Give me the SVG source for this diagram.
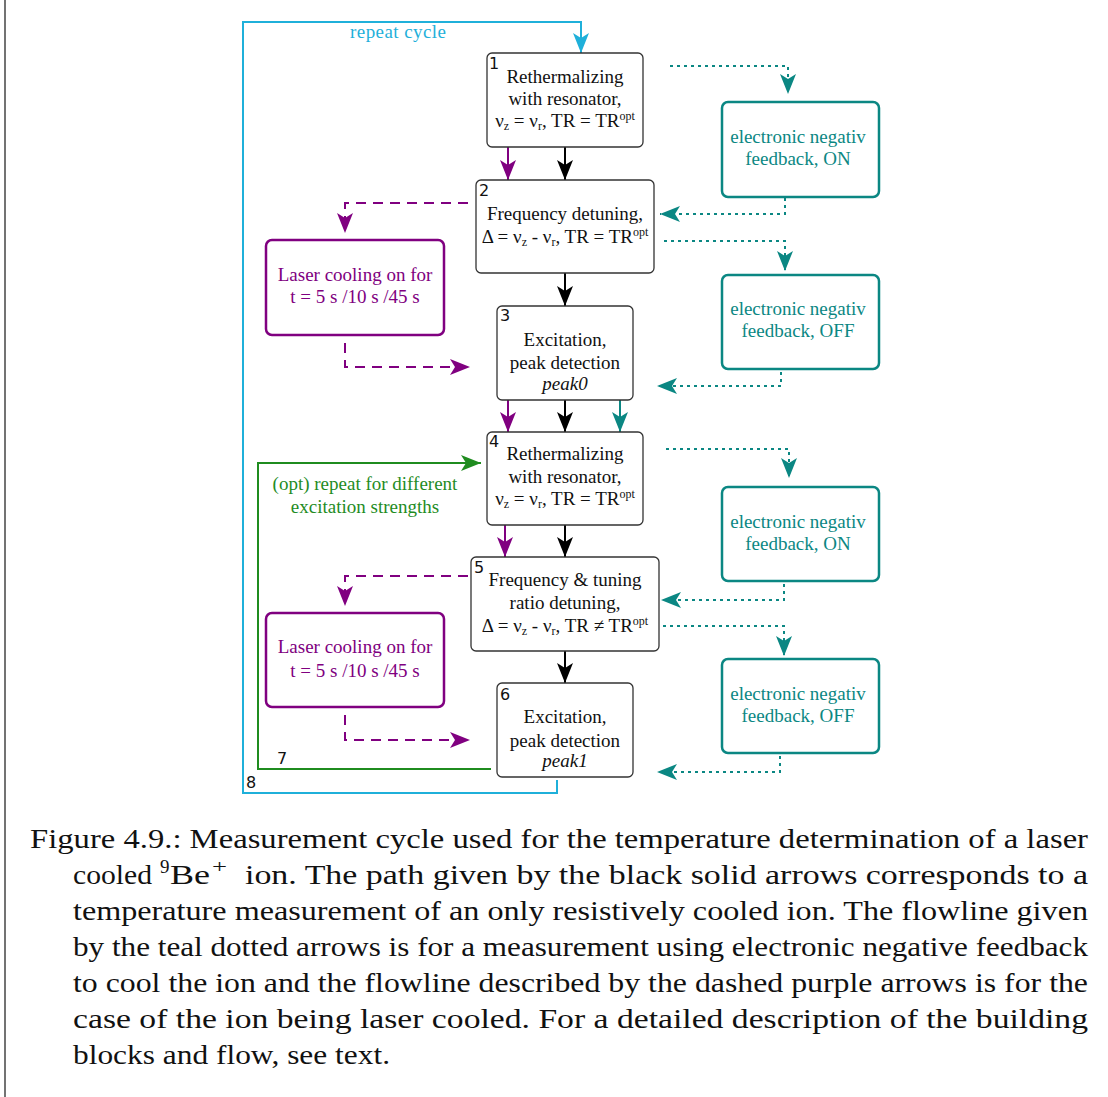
<svg xmlns="http://www.w3.org/2000/svg" width="1108" height="1097" viewBox="0 0 1108 1097">
<style>
.node{fill:#fff;stroke:#333;stroke-width:1.3}
.laser{fill:#fff;stroke:#800080;stroke-width:2.5}
.enf{fill:#fff;stroke:#0b8783;stroke-width:2.5}
.t{font-family:"Liberation Serif",serif;font-size:19px;text-anchor:middle;fill:#111}
.tp{font-family:"Liberation Serif",serif;font-size:19px;text-anchor:middle;fill:#800080}
.tt{font-family:"Liberation Serif",serif;font-size:19px;text-anchor:middle;fill:#0b8783}
.tg{font-family:"Liberation Serif",serif;font-size:19px;text-anchor:middle;fill:#1f8c1f}
.tc{font-family:"Liberation Serif",serif;font-size:19px;text-anchor:middle;fill:#1fb0da}
.num{font-family:"DejaVu Sans",sans-serif;font-size:16px;fill:#111}
.cap{font-family:"Liberation Serif",serif;font-size:27px;fill:#111}
.capsup{font-family:"Liberation Serif",serif;font-size:19px;fill:#111}
.sub{font-size:12px}
.sup{font-size:12px}
.blk{fill:none;stroke:#000;stroke-width:2}
.pur{fill:none;stroke:#800080;stroke-width:2}
.purd{fill:none;stroke:#800080;stroke-width:2;stroke-dasharray:10 7}
.tea{fill:none;stroke:#0b8783;stroke-width:2}
.tead{fill:none;stroke:#0b8783;stroke-width:2;stroke-dasharray:3 4}
.grn{fill:none;stroke:#1f8c1f;stroke-width:2}
.cyn{fill:none;stroke:#1fb0da;stroke-width:2}
</style>
<defs>
<marker id="aBlk" markerUnits="userSpaceOnUse" viewBox="0 0 20 16" markerWidth="20" markerHeight="16" refX="20" refY="8" orient="auto"><path d="M0,0 L20,8 L0,16 L5,8 z" fill="#000"/></marker>
<marker id="aPur" markerUnits="userSpaceOnUse" viewBox="0 0 20 16" markerWidth="20" markerHeight="16" refX="20" refY="8" orient="auto"><path d="M0,0 L20,8 L0,16 L5,8 z" fill="#800080"/></marker>
<marker id="aTea" markerUnits="userSpaceOnUse" viewBox="0 0 20 16" markerWidth="20" markerHeight="16" refX="20" refY="8" orient="auto"><path d="M0,0 L20,8 L0,16 L5,8 z" fill="#0b8783"/></marker>
<marker id="aGrn" markerUnits="userSpaceOnUse" viewBox="0 0 20 16" markerWidth="20" markerHeight="16" refX="20" refY="8" orient="auto"><path d="M0,0 L20,8 L0,16 L5,8 z" fill="#1f8c1f"/></marker>
<marker id="aCyn" markerUnits="userSpaceOnUse" viewBox="0 0 20 16" markerWidth="20" markerHeight="16" refX="20" refY="8" orient="auto"><path d="M0,0 L20,8 L0,16 L5,8 z" fill="#1fb0da"/></marker>
</defs>
<rect width="1108" height="1097" fill="#fff"/>
<line x1="5" y1="0" x2="5" y2="1097" stroke="#444" stroke-width="1.5"/>

<g id="connectors">
<path class="cyn" d="M557,780 V793 H243 V22 H581 V53" marker-end="url(#aCyn)"/>
<text class="tc" x="398" y="38" textLength="96">repeat cycle</text>
<path class="blk" d="M565,147 V180" marker-end="url(#aBlk)"/>
<path class="blk" d="M565,273 V306" marker-end="url(#aBlk)"/>
<path class="blk" d="M565,400 V432" marker-end="url(#aBlk)"/>
<path class="blk" d="M565,525 V557" marker-end="url(#aBlk)"/>
<path class="blk" d="M565,651 V683" marker-end="url(#aBlk)"/>
<path class="pur" d="M508,147 V180" marker-end="url(#aPur)"/>
<path class="pur" d="M508,400 V432" marker-end="url(#aPur)"/>
<path class="pur" d="M505,525 V557" marker-end="url(#aPur)"/>
<path class="tea" d="M620,400 V432" marker-end="url(#aTea)"/>
<path class="purd" d="M468,203 H345 V233" marker-end="url(#aPur)"/>
<path class="purd" d="M345,343 V367 H470" marker-end="url(#aPur)"/>
<path class="purd" d="M468,576 H345 V606" marker-end="url(#aPur)"/>
<path class="purd" d="M345,715 V740 H470" marker-end="url(#aPur)"/>
<path class="grn" d="M491,769 H258 V463 H481" marker-end="url(#aGrn)"/>
<text class="tg" x="365" y="490">(opt) repeat for different</text>
<text class="tg" x="365" y="513">excitation strengths</text>
<text class="num" x="277" y="764">7</text>
<text class="num" x="246" y="788">8</text>
<path class="tead" d="M670,66 H788 V94" marker-end="url(#aTea)"/>
<path class="tead" d="M785,198 V214 H660" marker-end="url(#aTea)"/>
<path class="tead" d="M664,241 H785 V271" marker-end="url(#aTea)"/>
<path class="tead" d="M781,372 V386 H657" marker-end="url(#aTea)"/>
<path class="tead" d="M666,449 H789 V478" marker-end="url(#aTea)"/>
<path class="tead" d="M784,584 V600 H661" marker-end="url(#aTea)"/>
<path class="tead" d="M663,626 H784 V656" marker-end="url(#aTea)"/>
<path class="tead" d="M780,756 V772 H657" marker-end="url(#aTea)"/>
</g>

<g id="node1">
<rect class="node" x="487" y="53" width="156" height="94" rx="5"/>
<text class="num" x="489" y="69">1</text>
<text class="t" x="565" y="83">Rethermalizing</text>
<text class="t" x="565" y="105">with resonator,</text>
<text class="t" x="565" y="127">ν<tspan class="sub" baseline-shift="-3">z</tspan> = ν<tspan class="sub" baseline-shift="-3">r</tspan>, TR = TR<tspan class="sup" baseline-shift="7">opt</tspan></text>
</g>
<g id="node2">
<rect class="node" x="476" y="180" width="178" height="93" rx="5"/>
<text class="num" x="479" y="196">2</text>
<text class="t" x="565" y="220">Frequency detuning,</text>
<text class="t" x="565" y="243">Δ = ν<tspan class="sub" baseline-shift="-3">z</tspan> - ν<tspan class="sub" baseline-shift="-3">r</tspan>, TR = TR<tspan class="sup" baseline-shift="7">opt</tspan></text>
</g>
<g id="node3">
<rect class="node" x="497" y="306" width="136" height="94" rx="5"/>
<text class="num" x="500" y="321">3</text>
<text class="t" x="565" y="346">Excitation,</text>
<text class="t" x="565" y="369">peak detection</text>
<text class="t" x="565" y="390" font-style="italic">peak0</text>
</g>
<g id="node4">
<rect class="node" x="487" y="432" width="156" height="93" rx="5"/>
<text class="num" x="489" y="447">4</text>
<text class="t" x="565" y="460">Rethermalizing</text>
<text class="t" x="565" y="483">with resonator,</text>
<text class="t" x="565" y="505">ν<tspan class="sub" baseline-shift="-3">z</tspan> = ν<tspan class="sub" baseline-shift="-3">r</tspan>, TR = TR<tspan class="sup" baseline-shift="7">opt</tspan></text>
</g>
<g id="node5">
<rect class="node" x="471" y="557" width="188" height="94" rx="5"/>
<text class="num" x="474" y="573">5</text>
<text class="t" x="565" y="586">Frequency &amp; tuning</text>
<text class="t" x="565" y="609">ratio detuning,</text>
<text class="t" x="565" y="632">Δ = ν<tspan class="sub" baseline-shift="-3">z</tspan> - ν<tspan class="sub" baseline-shift="-3">r</tspan>, TR ≠ TR<tspan class="sup" baseline-shift="7">opt</tspan></text>
</g>
<g id="node6">
<rect class="node" x="497" y="683" width="136" height="94" rx="5"/>
<text class="num" x="500" y="700">6</text>
<text class="t" x="565" y="723">Excitation,</text>
<text class="t" x="565" y="747">peak detection</text>
<text class="t" x="565" y="767" font-style="italic">peak1</text>
</g>
<g id="laser1">
<rect class="laser" x="266" y="240" width="178" height="95" rx="6"/>
<text class="tp" x="355" y="281">Laser cooling on for</text>
<text class="tp" x="355" y="303">t = 5 s /10 s /45 s</text>
</g>
<g id="laser2">
<rect class="laser" x="266" y="613" width="178" height="94" rx="6"/>
<text class="tp" x="355" y="653">Laser cooling on for</text>
<text class="tp" x="355" y="677">t = 5 s /10 s /45 s</text>
</g>
<g id="enf-on-1">
<rect class="enf" x="722" y="102" width="157" height="95" rx="6"/>
<text class="tt" x="798" y="143">electronic negativ</text>
<text class="tt" x="798" y="165">feedback, ON</text>
</g>
<g id="enf-off-1">
<rect class="enf" x="722" y="275" width="157" height="94" rx="6"/>
<text class="tt" x="798" y="315">electronic negativ</text>
<text class="tt" x="798" y="337">feedback, OFF</text>
</g>
<g id="enf-on-2">
<rect class="enf" x="722" y="487" width="157" height="94" rx="6"/>
<text class="tt" x="798" y="528">electronic negativ</text>
<text class="tt" x="798" y="550">feedback, ON</text>
</g>
<g id="enf-off-2">
<rect class="enf" x="722" y="659" width="157" height="94" rx="6"/>
<text class="tt" x="798" y="700">electronic negativ</text>
<text class="tt" x="798" y="722">feedback, OFF</text>
</g>

<g id="caption">
<text class="cap" x="30" y="848" textLength="1058" lengthAdjust="spacingAndGlyphs">Figure 4.9.: Measurement cycle used for the temperature determination of a laser</text>
<text class="cap" x="73" y="884" textLength="79" lengthAdjust="spacingAndGlyphs">cooled</text>
<text class="capsup" x="160" y="873">9</text>
<text class="cap" x="170" y="884" textLength="40" lengthAdjust="spacingAndGlyphs">Be</text>
<text class="capsup" x="212" y="873" textLength="15" lengthAdjust="spacingAndGlyphs">+</text>
<text class="cap" x="245" y="884" textLength="843" lengthAdjust="spacingAndGlyphs">ion.  The path given by the black solid arrows corresponds to a</text>
<text class="cap" x="73" y="920" textLength="1015" lengthAdjust="spacingAndGlyphs">temperature measurement of an only resistively cooled ion.  The flowline given</text>
<text class="cap" x="73" y="956" textLength="1015" lengthAdjust="spacingAndGlyphs">by the teal dotted arrows is for a measurement using electronic negative feedback</text>
<text class="cap" x="73" y="992" textLength="1015" lengthAdjust="spacingAndGlyphs">to cool the ion and the flowline described by the dashed purple arrows is for the</text>
<text class="cap" x="73" y="1028" textLength="1015" lengthAdjust="spacingAndGlyphs">case of the ion being laser cooled.  For a detailed description of the building</text>
<text class="cap" x="73" y="1064" textLength="317" lengthAdjust="spacingAndGlyphs">blocks and flow, see text.</text>
</g>
</svg>
